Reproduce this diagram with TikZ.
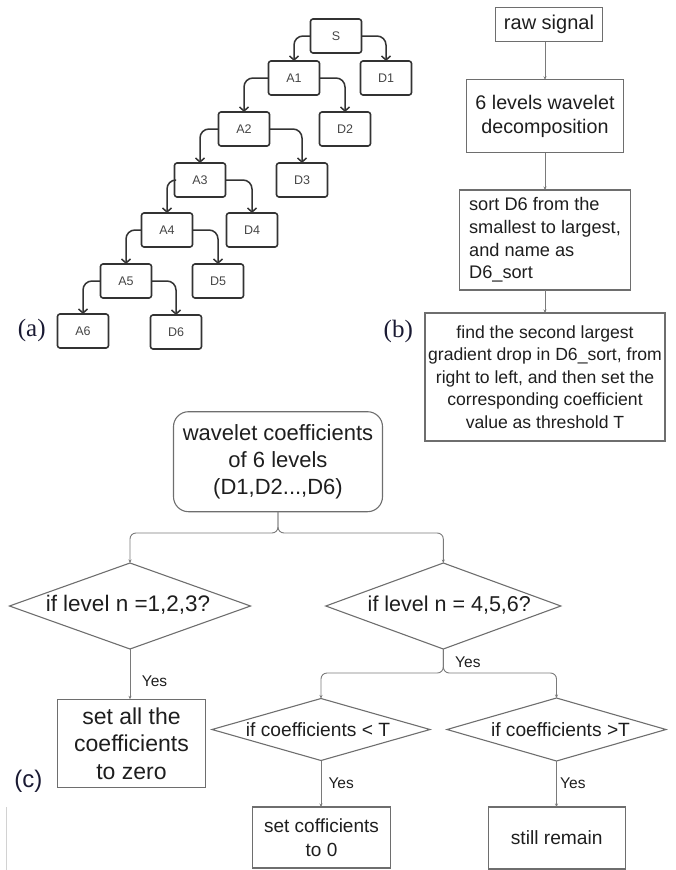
\documentclass[tikz,border=0pt]{standalone}
\usepackage{fontspec}
\setmainfont{Liberation Sans}
\newfontfamily\lblfont{Liberation Serif}
\usetikzlibrary{shapes.geometric,arrows.meta}
\definecolor{boxgray}{HTML}{6E6E6E}
\definecolor{linegray}{HTML}{7A7A7A}
\definecolor{txt}{HTML}{1E1E1E}
\definecolor{treeline}{HTML}{333333}
\definecolor{treetxt}{HTML}{454545}
\definecolor{lbl}{HTML}{1A1A33}
\begin{document}
\begin{tikzpicture}[x=1pt,y=-1pt,
  tbox/.style={draw=treeline,line width=1.6pt,rounded corners=2.5pt,minimum width=51pt,minimum height=34pt,inner sep=0pt,outer sep=0pt,text=treetxt,font=\fontsize{12.5}{14}\selectfont},
  tarrow/.style={draw=treeline,line width=1.5pt,rounded corners=9pt,-{Straight Barb[length=4pt,width=9pt]}},
  fbox/.style={draw=boxgray,line width=1.1pt,inner sep=0pt,outer sep=0pt,text=txt,align=center},
  farrow/.style={draw=linegray,line width=0.9pt,-{Stealth[length=3.5pt,width=3pt]}},
  carrow/.style={draw=linegray,line width=0.9pt,rounded corners=6pt,-{Stealth[length=3.5pt,width=3pt]}},
  dia/.style={draw=boxgray,line width=1.1pt,shape=diamond,inner sep=0pt,outer sep=0pt},
  dtext/.style={text=txt,inner sep=0pt},
  yes/.style={text=txt,font=\fontsize{15.5}{18}\selectfont,anchor=west,inner sep=0pt},
  plabel/.style={text=lbl,inner sep=0pt}
]
\useasboundingbox (0,0) rectangle (676,870);

% ---------- (a) decomposition tree ----------
\node[tbox] (S)  at (336,36)  {S};
\node[tbox] (D1) at (386,78)  {D1};
\node[tbox] (A1) at (294,78)  {A1};
\node[tbox] (D2) at (345,129) {D2};
\node[tbox] (A2) at (244,129) {A2};
\node[tbox] (D3) at (302,180) {D3};
\node[tbox] (A3) at (200,180) {A3};
\node[tbox] (D4) at (252,230) {D4};
\node[tbox] (A4) at (167,230) {A4};
\node[tbox] (D5) at (218,281) {D5};
\node[tbox] (A5) at (126,281) {A5};
\node[tbox] (A6) at (83,331)  {A6};
\node[tbox] (D6) at (176,332) {D6};

\draw[tarrow] (S.west)  -| (A1.north);
\draw[tarrow] (S.east)  -| (D1.north);
\draw[tarrow] (A1.west) -| (A2.north);
\draw[tarrow] (A1.east) -| (D2.north);
\draw[tarrow] (A2.west) -| (A3.north);
\draw[tarrow] (A2.east) -| (D3.north);
\draw[tarrow] (A3.west) -| (A4.north);
\draw[tarrow] (A3.east) -| (D4.north);
\draw[tarrow] (A4.west) -| (A5.north);
\draw[tarrow] (A4.east) -| (D5.north);
\draw[tarrow] (A5.west) -| (A6.north);
\draw[tarrow] (A5.east) -| (D6.north);

\node[plabel,font=\lblfont\fontsize{25}{28}\selectfont] (la) at (31.7,330.5) {(a)};

% ---------- (b) threshold flow ----------
\node[fbox,minimum width=107pt,minimum height=34pt,font=\fontsize{20}{23}\selectfont] (raw) at (549,24.5) {raw signal};
\node[fbox,minimum width=157pt,minimum height=73pt,font=\fontsize{19.7}{23.3}\selectfont] (dec) at (545,116.3) {6 levels wavelet\\decomposition};
\node[fbox,align=left,minimum width=171pt,minimum height=100pt,font=\fontsize{18.2}{22.7}\selectfont] (sort) at (545,240) {sort D6 from the\\smallest to largest,\\and name as\\D6\_sort};
\node[fbox,minimum width=240pt,minimum height=128pt,font=\fontsize{17.6}{22.6}\selectfont] (find) at (545,377) {find the second largest\\gradient drop in D6\_sort, from\\right to left, and then set the\\corresponding coefficient\\value as threshold T};

\draw[farrow] (raw.south -| dec.north) -- (dec.north);
\draw[farrow] (dec.south) -- (sort.north);
\draw[farrow] (sort.south) -- (find.north);

\node[plabel,font=\lblfont\fontsize{25}{28}\selectfont] (lb) at (398.3,331) {(b)};

% ---------- (c) thresholding rules ----------
\node[fbox,rounded corners=15pt,minimum width=209pt,minimum height=100pt,font=\fontsize{22}{26.7}\selectfont] (wav) at (278,461.7) {wavelet coefficients\\of 6 levels\\(D1,D2...,D6)};

\node[dia,minimum width=241pt,minimum height=86pt] (dL) at (130,606) {};
\node[dtext,font=\fontsize{22.5}{26}\selectfont] (dLt) at ([xshift=-2pt,yshift=1pt]dL.center) {if level n =1,2,3?};
\node[dia,minimum width=235pt,minimum height=86pt] (dR) at (443.3,606) {};
\node[dtext,font=\fontsize{21.5}{26}\selectfont] (dRt) at ([xshift=6pt,yshift=1pt]dR.center) {if level n = 4,5,6?};

\coordinate (j1) at (278,533);
\draw[carrow] (wav.south) -- (j1) -| (dL.north);
\draw[carrow] (wav.south) -- (j1) -| (dR.north);

\node[fbox,minimum width=148pt,minimum height=88pt,font=\fontsize{23}{27.5}\selectfont] (zero) at (131.5,743.3) {set all the\\coefficients\\to zero};
\draw[carrow] (dL.south) -- (dL.south |- zero.north);
\node[yes] (y1) at (141.7,681) {Yes};

\node[dia,minimum width=218pt,minimum height=62pt] (d3) at (321,729.5) {};
\node[dtext,font=\fontsize{19.2}{22}\selectfont] (d3t) at ([xshift=-3pt]d3.center) {if coefficients < T};
\node[dia,minimum width=219pt,minimum height=63pt] (d4) at (556.5,729.5) {};
\node[dtext,font=\fontsize{19.2}{22}\selectfont] (d4t) at ([xshift=4pt]d4.center) {if coefficients >T};

\coordinate (j2) at (443.3,673);
\draw[carrow] (dR.south) -- (j2) -| (d3.north);
\draw[carrow] (dR.south) -- (j2) -| (d4.north);
\node[yes] (y2) at (455,662.7) {Yes};

\node[fbox,minimum width=138.5pt,minimum height=61pt,font=\fontsize{19}{23.5}\selectfont] (b3) at (321.5,837.5) {set cofficients\\to 0};
\node[fbox,minimum width=137pt,minimum height=62pt,font=\fontsize{19.2}{23}\selectfont] (b4) at (556.7,838) {still remain};

\draw[carrow] (d3.south) -- (d3.south |- b3.north);
\draw[carrow] (d4.south) -- (d4.south |- b4.north);
\node[yes] (y3) at (328.3,783.3) {Yes};
\node[yes] (y4) at (560,783.3) {Yes};

\node[plabel,font=\fontsize{24}{28}\selectfont] (lc) at (28.3,781) {(c)};

\draw[gray!35,line width=0.6pt] (6.7,807) -- (6.7,870);
\end{tikzpicture}
\end{document}
